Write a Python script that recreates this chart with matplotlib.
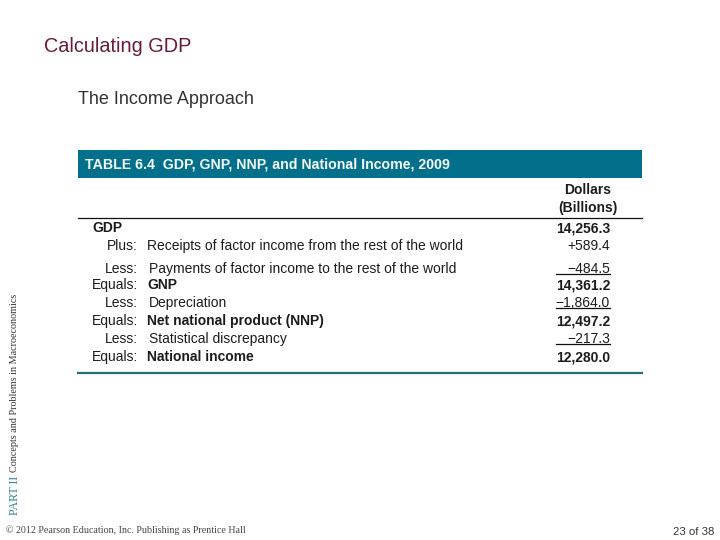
import matplotlib
matplotlib.use("Agg")
import matplotlib.pyplot as plt
from matplotlib.patches import Rectangle

title = "Calculating GDP"
subtitle = "The Income Approach"
table_title = "TABLE 6.4  GDP, GNP, NNP, and National Income, 2009"
column_head = "Dollars\n(Billions)"
prefixes = ["", "Plus:", "Less:", "Equals:", "Less:", "Equals:", "Less:", "Equals:"]
items = ["GDP", "Receipts of factor income from the rest of the world",
         "Payments of factor income to the rest of the world", "GNP", "Depreciation",
         "Net national product (NNP)", "Statistical discrepancy", "National income"]
values = ["14,256.3", "+589.4", "\u2212484.5", "14,361.2", "\u22121,864.0", "12,497.2", "\u2212217.3", "12,280.0"]
bold_rows = [0, 3, 5, 7]
underlined_rows = [2, 4, 6]
side_part = "PART II"
side_text = "Concepts and Problems in Macroeconomics"
footer = "\u00a9 2012 Pearson Education, Inc. Publishing as Prentice Hall"
page = "23 of 38"

TEAL = "#02708a"
TXT = "#1c1c1c"
SANS = "Liberation Sans"
SERIF = "Liberation Serif"
row_y = [232.5, 250, 273, 289, 307, 325, 343, 361]

fig = plt.figure(figsize=(7.2, 5.4), dpi=100, facecolor="white")
ax = fig.add_axes([0, 0, 1, 1])
ax.set_xlim(0, 720)
ax.set_ylim(540, 0)
ax.axis("off")

ax.text(44, 46, title, family=SANS, fontsize=14.3, color="#6a1a3c", va="center")
ax.text(78, 99, subtitle, family=SANS, fontsize=13, color="#333333", va="center")

ax.add_patch(Rectangle((78, 150), 564, 28, facecolor=TEAL, edgecolor="none"))
ax.text(85, 164.5, table_title, family=SANS, fontsize=10.2, weight="bold", color="#f4f8f8", va="center")
ax.text(588, 199, column_head, family=SANS, fontsize=10, weight="bold", color=TXT,
        ha="center", va="center", linespacing=1.32)
ax.plot([78, 642], [218, 218], color="#111111", lw=0.9)
ax.plot([78, 642], [372.5, 372.5], color="#1f6f80", lw=1.6)

for i, (p, it, v, y) in enumerate(zip(prefixes, items, values, row_y)):
    bold = i in bold_rows
    if p:
        ax.text(138, y, p, family=SANS, fontsize=10, color=TXT, ha="right", va="baseline")
        x = 147 if (bold or i == 1) else 149
    else:
        x = 92
    ax.text(x, y, it, family=SANS, fontsize=10, color=TXT, va="baseline",
            weight="bold" if bold else "normal")
    ax.text(610, y, v, family=SANS, fontsize=10, color=TXT, ha="right", va="baseline",
            weight="bold" if bold else "normal")
    if i in underlined_rows:
        ax.plot([556, 610], [y + 1.2, y + 1.2], color="#111111", lw=0.9)

ax.text(15, 515, side_part, family=SERIF, fontsize=8.6, color="#2b7d90", rotation=90,
        ha="center", va="bottom")
ax.text(15, 472, side_text, family=SERIF, fontsize=7.3, color="#333333", rotation=90,
        ha="center", va="bottom")
ax.text(6, 530, footer, family=SERIF, fontsize=7.2, color="#444444", va="center")
ax.text(714, 532, page, family=SANS, fontsize=8.2, color="#333333", ha="right", va="center")

fig.savefig("out.png", dpi=100)
